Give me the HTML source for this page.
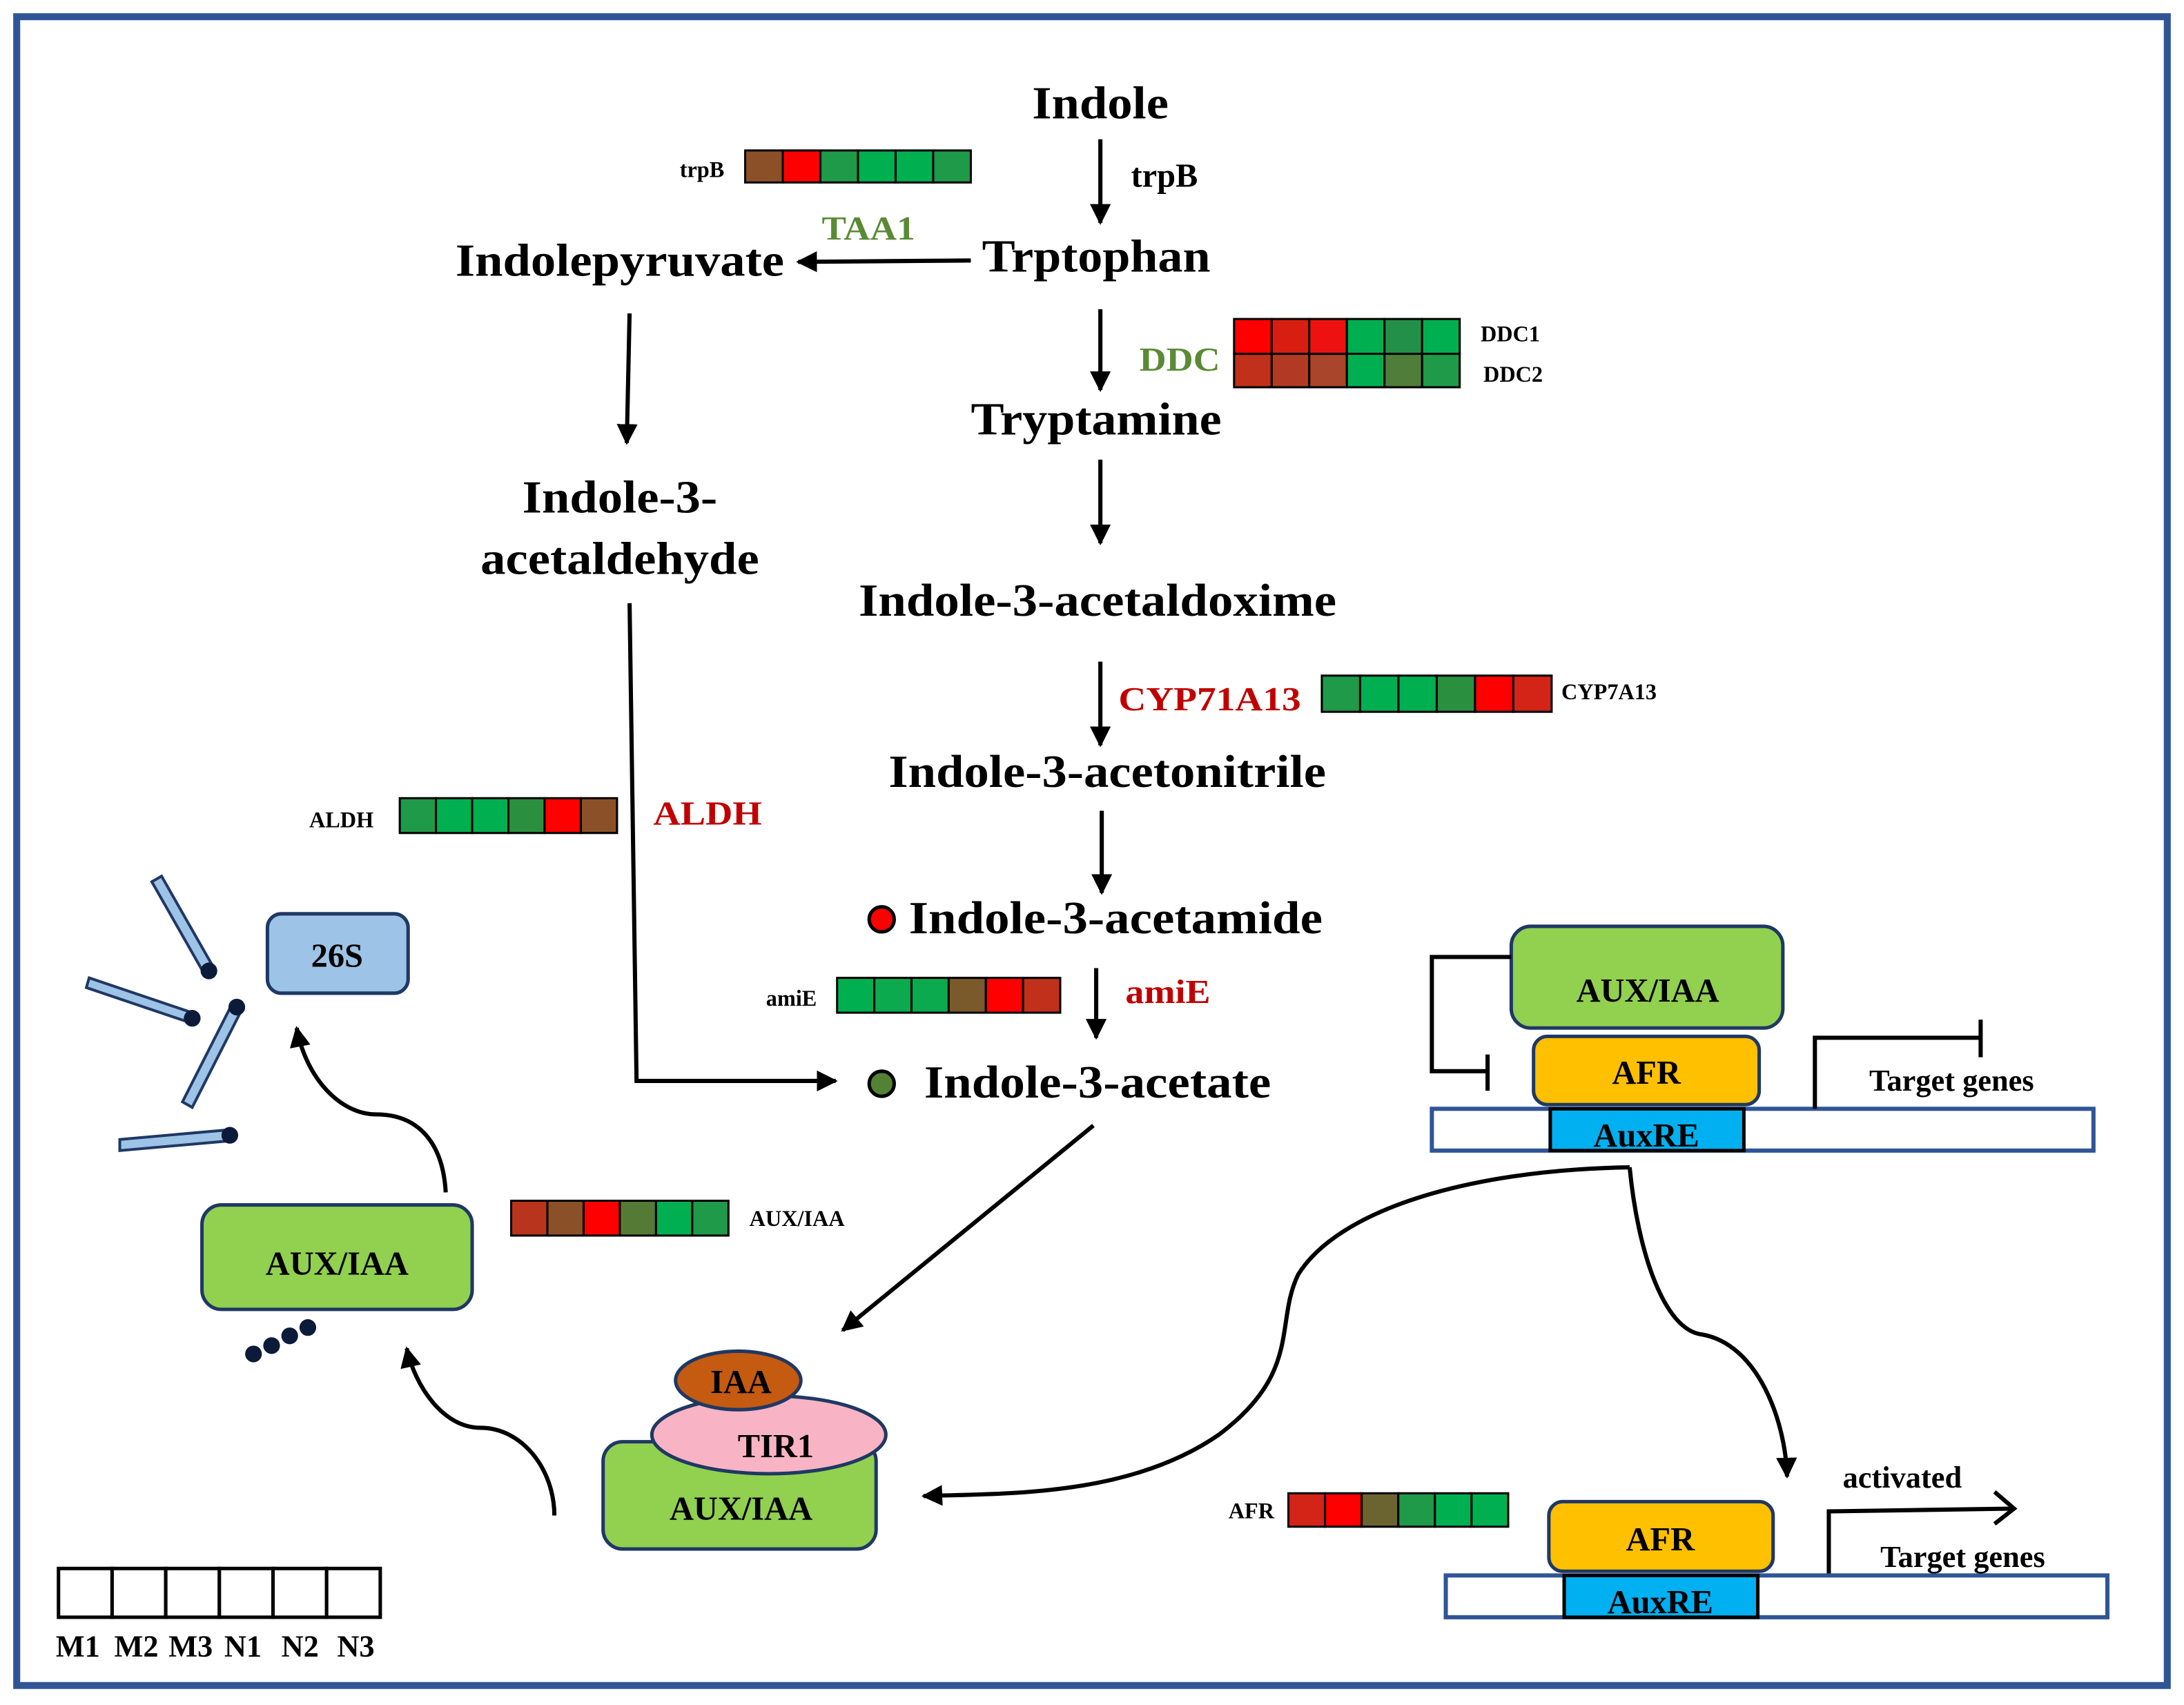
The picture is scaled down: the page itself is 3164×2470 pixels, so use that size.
<!DOCTYPE html>
<html><head><meta charset="utf-8"><style>
html,body{margin:0;padding:0;background:#fff;}
svg{display:block;}
text{font-family:"Liberation Serif",serif;font-weight:bold;}
</style></head><body>
<svg width="3164" height="2470" viewBox="0 0 1568 1224" preserveAspectRatio="none" xmlns="http://www.w3.org/2000/svg">
<defs>
<marker id="ah" viewBox="0 0 10 10" refX="9" refY="5" markerWidth="5" markerHeight="5" orient="auto" markerUnits="strokeWidth"><path d="M0,0 L10,5 L0,10 z" fill="#000"/></marker>
</defs>
<rect x="0" y="0" width="1568" height="1224" fill="#fff"/>
<rect x="12" y="12" width="1544" height="1198" fill="none" stroke="#2F5597" stroke-width="5"/>

<g fill="none" stroke="#000" stroke-width="3" marker-end="url(#ah)">
<line x1="790" y1="100" x2="790" y2="160"/>
<line x1="697" y1="187" x2="573" y2="188"/>
<line x1="790" y1="222" x2="790" y2="280"/>
<line x1="790" y1="330" x2="790" y2="390"/>
<line x1="790" y1="475" x2="790" y2="535"/>
<line x1="791" y1="582" x2="791" y2="641"/>
<line x1="787" y1="695" x2="787" y2="745"/>
<line x1="452" y1="225" x2="450" y2="318"/>
<polyline points="452,433 457,776 600,776"/>
<line x1="785" y1="808" x2="605" y2="955"/>
<path d="M320,856 C318,820 300,800 270,800 C245,800 220,775 213,738"/>
<path d="M398,1088 C398,1055 375,1025 345,1025 C318,1025 298,995 292,968"/>
<path d="M1170,838 C1050,840 960,870 932,915 C915,950 935,985 875,1030 C810,1075 720,1072 663,1074"/>
<path d="M1170,838 C1176,900 1195,955 1222,958 C1262,965 1282,1020 1283,1060"/>
</g>

<!-- main labels -->
<g font-size="33" fill="#000" text-anchor="middle">
<text x="790" y="85" textLength="98" lengthAdjust="spacingAndGlyphs">Indole</text>
<text x="787" y="195" textLength="164" lengthAdjust="spacingAndGlyphs">Trptophan</text>
<text x="445" y="198" textLength="236" lengthAdjust="spacingAndGlyphs">Indolepyruvate</text>
<text x="787" y="312" textLength="180" lengthAdjust="spacingAndGlyphs">Tryptamine</text>
<text x="445" y="368" textLength="140" lengthAdjust="spacingAndGlyphs">Indole-3-</text>
<text x="445" y="412" textLength="200" lengthAdjust="spacingAndGlyphs">acetaldehyde</text>
<text x="788" y="442" textLength="343" lengthAdjust="spacingAndGlyphs">Indole-3-acetaldoxime</text>
<text x="795" y="565" textLength="314" lengthAdjust="spacingAndGlyphs">Indole-3-acetonitrile</text>
<text x="801" y="670" textLength="297" lengthAdjust="spacingAndGlyphs">Indole-3-acetamide</text>
<text x="788" y="788" textLength="249" lengthAdjust="spacingAndGlyphs">Indole-3-acetate</text>
</g>
<circle cx="633" cy="660" r="9" fill="#FF0000" stroke="#000" stroke-width="2.5"/>
<circle cx="633" cy="778" r="9" fill="#548235" stroke="#000" stroke-width="2.5"/>

<g font-size="24">
<text x="812" y="134" fill="#000">trpB</text>
<text x="590" y="172" fill="#5B8A35" textLength="67" lengthAdjust="spacingAndGlyphs">TAA1</text>
<text x="818" y="266" fill="#5B8A35" textLength="58" lengthAdjust="spacingAndGlyphs">DDC</text>
<text x="803" y="510" fill="#C00000" textLength="131" lengthAdjust="spacingAndGlyphs">CYP71A13</text>
<text x="469" y="592" fill="#C00000" textLength="78" lengthAdjust="spacingAndGlyphs">ALDH</text>
<text x="808" y="720" fill="#C00000" textLength="61" lengthAdjust="spacingAndGlyphs">amiE</text>
</g>

<!-- heatmaps -->
<g stroke="#000" stroke-width="1.5">
<g transform="translate(535,108)">
<rect x="0" width="27" height="23" fill="#8B5028"/><rect x="27" width="27" height="23" fill="#FF0000"/><rect x="54" width="27" height="23" fill="#1E9A48"/><rect x="81" width="27" height="23" fill="#00B050"/><rect x="108" width="27" height="23" fill="#00B050"/><rect x="135" width="27" height="23" fill="#1E9A48"/>
</g>
<g transform="translate(886,229)">
<rect x="0" width="27" height="25" fill="#FF0000"/><rect x="27" width="27" height="25" fill="#D81E10"/><rect x="54" width="27" height="25" fill="#EE1111"/><rect x="81" width="27" height="25" fill="#00B050"/><rect x="108" width="27" height="25" fill="#23904A"/><rect x="135" width="27" height="25" fill="#00B050"/>
<rect x="0" y="25" width="27" height="24" fill="#C0301A"/><rect x="27" y="25" width="27" height="24" fill="#B23A22"/><rect x="54" y="25" width="27" height="24" fill="#A8452A"/><rect x="81" y="25" width="27" height="24" fill="#00B050"/><rect x="108" y="25" width="27" height="24" fill="#4E7E3A"/><rect x="135" y="25" width="27" height="24" fill="#1E9A48"/>
</g>
<g transform="translate(949,485)">
<rect x="0" width="27.5" height="26" fill="#1E9A48"/><rect x="27.5" width="27.5" height="26" fill="#00B050"/><rect x="55" width="27.5" height="26" fill="#00B050"/><rect x="82.5" width="27.5" height="26" fill="#2A9040"/><rect x="110" width="27.5" height="26" fill="#FF0000"/><rect x="137.5" width="27.5" height="26" fill="#D42418"/>
</g>
<g transform="translate(287,573)">
<rect x="0" width="26" height="25" fill="#1E9A48"/><rect x="26" width="26" height="25" fill="#00B050"/><rect x="52" width="26" height="25" fill="#00B050"/><rect x="78" width="26" height="25" fill="#2A9040"/><rect x="104" width="26" height="25" fill="#FF0000"/><rect x="130" width="26" height="25" fill="#8B5028"/>
</g>
<g transform="translate(601,702)">
<rect x="0" width="26.7" height="25" fill="#00B050"/><rect x="26.7" width="26.7" height="25" fill="#0BAA4E"/><rect x="53.4" width="26.7" height="25" fill="#0BAA4E"/><rect x="80.1" width="26.7" height="25" fill="#7A5A2A"/><rect x="106.8" width="26.7" height="25" fill="#FF0000"/><rect x="133.5" width="26.7" height="25" fill="#C0301A"/>
</g>
<g transform="translate(367,862)">
<rect x="0" width="26" height="25" fill="#B8341C"/><rect x="26" width="26" height="25" fill="#8B5028"/><rect x="52" width="26" height="25" fill="#FF0000"/><rect x="78" width="26" height="25" fill="#557A35"/><rect x="104" width="26" height="25" fill="#00B050"/><rect x="130" width="26" height="25" fill="#1E9A48"/>
</g>
<g transform="translate(925,1072)">
<rect x="0" width="26.3" height="24" fill="#D42418"/><rect x="26.3" width="26.3" height="24" fill="#FF0000"/><rect x="52.6" width="26.3" height="24" fill="#6B6430"/><rect x="78.9" width="26.3" height="24" fill="#1E9A48"/><rect x="105.2" width="26.3" height="24" fill="#00B050"/><rect x="131.5" width="26.3" height="24" fill="#00B050"/>
</g>
<g transform="translate(42,1126)" fill="#fff" stroke-width="2.5">
<rect x="0" width="38.5" height="35"/><rect x="38.5" width="38.5" height="35"/><rect x="77" width="38.5" height="35"/><rect x="115.5" width="38.5" height="35"/><rect x="154" width="38.5" height="35"/><rect x="192.5" width="38.5" height="35"/>
</g>
</g>
<g font-size="16" fill="#000">
<text x="488" y="127">trpB</text>
<text x="1063" y="245">DDC1</text>
<text x="1065" y="274">DDC2</text>
<text x="1121" y="502">CYP7A13</text>
<text x="222" y="594">ALDH</text>
<text x="550" y="722">amiE</text>
<text x="538" y="880">AUX/IAA</text>
<text x="882" y="1090">AFR</text>
</g>
<g font-size="22" fill="#000">
<text x="40" y="1189">M1</text><text x="82" y="1189">M2</text><text x="121" y="1189">M3</text><text x="161" y="1189">N1</text><text x="202" y="1189">N2</text><text x="242" y="1189">N3</text>
</g>

<!-- proteasome -->
<rect x="192" y="656" width="101" height="57" rx="10" fill="#9DC3E6" stroke="#1F3864" stroke-width="2.5"/>
<text x="242" y="694" font-size="24" text-anchor="middle">26S</text>
<g stroke="#1F3864" stroke-width="2" fill="#9DC3E6">
<polygon points="109,633 116,629 153,694 146,698"/>
<polygon points="62,709 64,702 138,727 136,734"/>
<polygon points="167,720 174,724 138,795 131,791"/>
<polygon points="86,818 86,826 165,819 165,811"/>
</g>
<g fill="#0D1B3A">
<circle cx="150" cy="697" r="6"/><circle cx="138" cy="731" r="6"/><circle cx="170" cy="723" r="6"/><circle cx="165" cy="815" r="6"/>
<circle cx="182" cy="972" r="6"/><circle cx="195" cy="966" r="6"/><circle cx="208" cy="959" r="6"/><circle cx="221" cy="953" r="6"/>
</g>

<rect x="145" y="865" width="194" height="75" rx="14" fill="#92D050" stroke="#1F3864" stroke-width="2.5"/>
<text x="242" y="915" font-size="24" text-anchor="middle">AUX/IAA</text>

<!-- TIR complex -->
<rect x="433" y="1035" width="196" height="77" rx="14" fill="#92D050" stroke="#1F3864" stroke-width="2.5"/>
<ellipse cx="552" cy="1030" rx="84" ry="28" fill="#F8B4C4" stroke="#1F3864" stroke-width="2.5"/>
<ellipse cx="530" cy="991" rx="45" ry="21" fill="#C55A11" stroke="#1F3864" stroke-width="2.5"/>
<text x="532" y="1000" font-size="24" text-anchor="middle">IAA</text>
<text x="557" y="1046" font-size="24" text-anchor="middle">TIR1</text>
<text x="532" y="1091" font-size="24" text-anchor="middle">AUX/IAA</text>

<!-- right top -->
<rect x="1028" y="796" width="475" height="30" fill="#fff" stroke="#2F5597" stroke-width="3"/>
<rect x="1113" y="796" width="139" height="30" fill="#00B0F0" stroke="#000" stroke-width="2.5"/>
<text x="1182" y="823" font-size="24" text-anchor="middle">AuxRE</text>
<rect x="1101" y="744" width="162" height="49" rx="10" fill="#FFC000" stroke="#1F3864" stroke-width="2.5"/>
<text x="1182" y="778" font-size="24" text-anchor="middle">AFR</text>
<rect x="1085" y="665" width="195" height="73" rx="14" fill="#92D050" stroke="#1F3864" stroke-width="2.5"/>
<text x="1183" y="719" font-size="24" text-anchor="middle">AUX/IAA</text>
<g fill="none" stroke="#000" stroke-width="3">
<polyline points="1085,687 1028,687 1028,769 1068,769"/>
<line x1="1068" y1="757" x2="1068" y2="783"/>
<polyline points="1303,796 1303,745 1422,745"/>
<line x1="1422" y1="732" x2="1422" y2="759"/>
<polyline points="1313,1131 1313,1085 1445,1083"/>
<polyline points="1432,1071 1446,1083 1432,1094"/>
</g>
<text x="1342" y="783" font-size="22">Target genes</text>

<!-- right bottom -->
<rect x="1038" y="1131" width="475" height="30" fill="#fff" stroke="#2F5597" stroke-width="3"/>
<rect x="1123" y="1131" width="139" height="30" fill="#00B0F0" stroke="#000" stroke-width="2.5"/>
<text x="1192" y="1158" font-size="24" text-anchor="middle">AuxRE</text>
<rect x="1112" y="1078" width="161" height="50" rx="10" fill="#FFC000" stroke="#1F3864" stroke-width="2.5"/>
<text x="1192" y="1113" font-size="24" text-anchor="middle">AFR</text>
<text x="1323" y="1068" font-size="22">activated</text>
<text x="1350" y="1125" font-size="22">Target genes</text>
</svg>
</body></html>
